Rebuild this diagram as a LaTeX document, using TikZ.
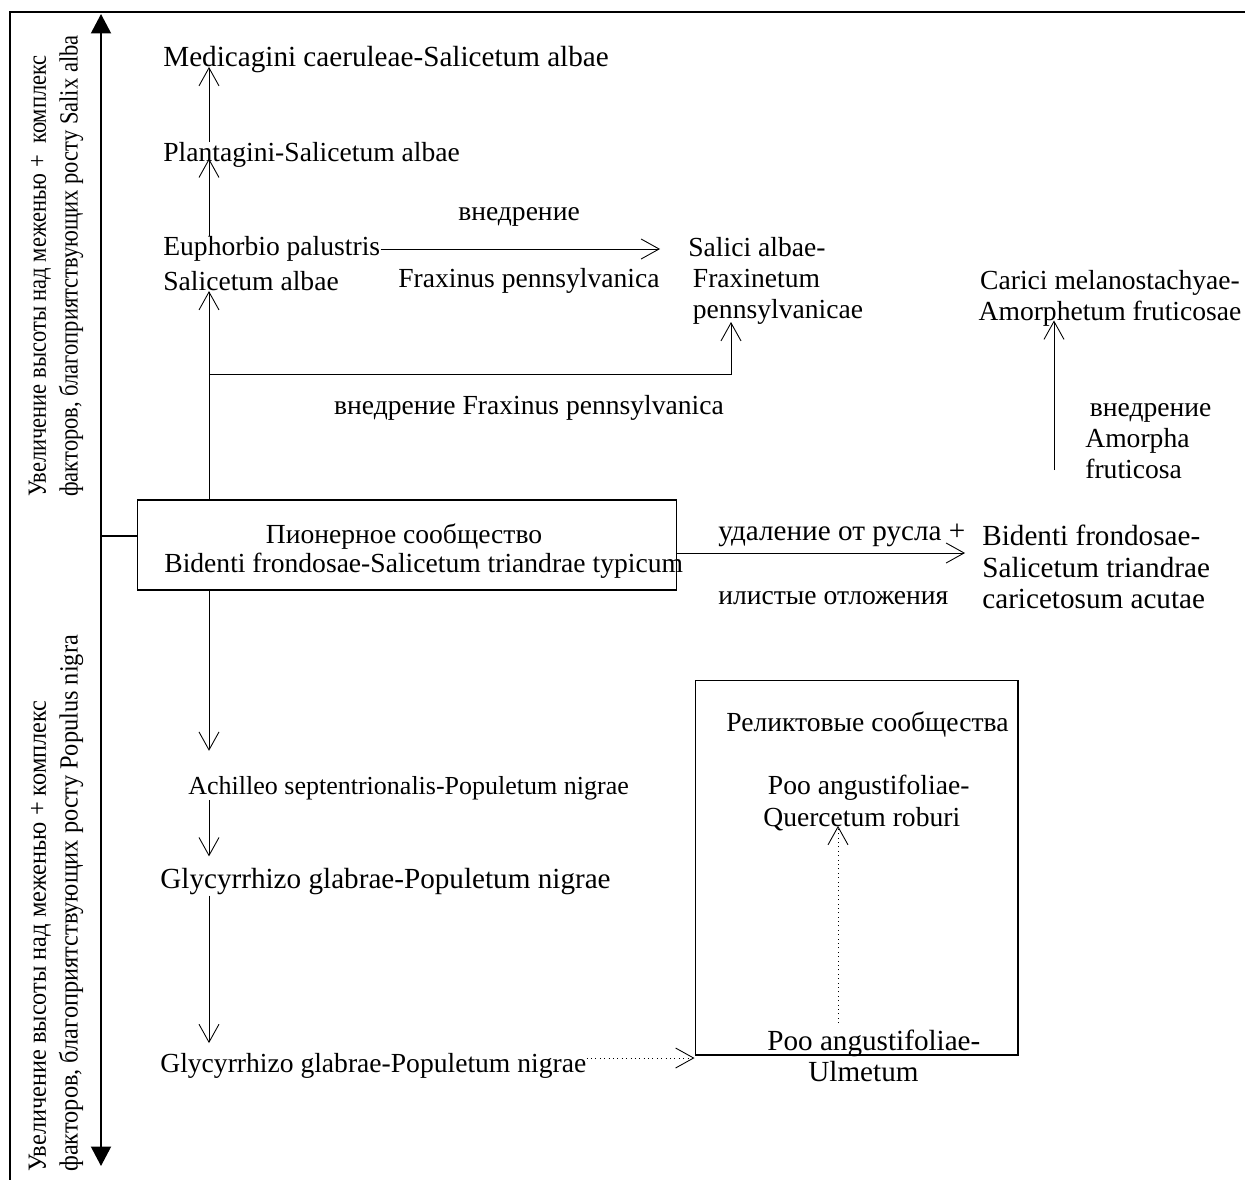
\documentclass[tikz,border=0pt]{standalone}
\usepackage{fontspec}
\setmainfont{Liberation Serif}
\newfontfamily\sidefontA[FakeStretch=0.86]{Liberation Serif}
\newfontfamily\sidefontB[FakeStretch=0.93]{Liberation Serif}
\usetikzlibrary{arrows.meta}

\begin{document}
\begin{tikzpicture}[x=0.02cm, y=-0.02cm,
  every node/.style={inner sep=0pt, font=\fontsize{15.7}{17.8}\selectfont},
  big/.style={font=\fontsize{16.6}{17.8}\selectfont},
  small/.style={font=\fontsize{14.8}{17.8}\selectfont},
  comm/.style={anchor=west, align=left},
  side/.style={rotate=90, anchor=west, align=left},
  arr/.style={-{Straight Barb[length=3.6mm,width=4mm]}, line width=0.5pt},
  darr/.style={arr, dotted},
  axis/.style={{Triangle[length=3.9mm,width=4mm]}-{Triangle[length=3.9mm,width=4mm]}, line width=1.15pt},
  box/.style={draw, line width=0.6pt}]
\useasboundingbox (0,0) rectangle (1245,1180);
% frame and axis
\draw[line width=1.5pt] (10,1180) -- (10,12) -- (1245,12);
\coordinate (atop) at (101,14);
\coordinate (abot) at (101,1166);
\draw[axis] (abot) -- (atop);
\node[side, font=\sidefontA\fontsize{14.9}{18.1}\selectfont] (salix) at (56,497) {Увеличение высоты над меженью +\ \ комплекс\\факторов, благоприятствующих росту Salix alba};
\node[side, font=\sidefontB\fontsize{14.9}{18.1}\selectfont] (popul) at (56,1172) {Увеличение высоты над меженью + комплекс\\факторов, благоприятствующих росту Populus nigra};
% pioneer community
\node[box, minimum width=10.8cm, minimum height=1.8cm] (pion) at (407,545) {};
\node (pion1) at (404,537) {Пионерное сообщество};
\node[comm] (pion2) at (164,566) {Bidenti frondosae-Salicetum triandrae typicum};
\coordinate (tick) at (101,536);
\draw[line width=1.15pt] (tick) -- (tick -| pion.west);
\coordinate (spine) at (209,545);
% Salix alba branch
\node[comm, big] (medic) at (163,60) {Medicagini caeruleae-Salicetum albae};
\node[comm] (plant) at (163,155) {Plantagini-Salicetum albae};
\node[comm] (euph1) at (163,249) {Euphorbio palustris};
\node[comm] (euph2) at (163,281) {Salicetum albae};
\draw[arr] (spine |- pion.north) -- (spine |- euph2.south);
\draw[arr] (spine |- euph1.north) -- ([yshift=0.6mm]spine |- plant.base);
\draw[arr] (spine |- plant.north) -- (spine |- medic.base);
\node[comm] (sal) at (688,281) {Salici albae-\\\,Fraxinetum\\\,pennsylvanicae};
\node (vn1) at (519,217) {внедрение};
\node (fx1) at (529,281) {Fraxinus pennsylvanica};
\draw[arr, shorten >=5.6mm] (euph1.east) -- (euph1.east -| sal.west);
\coordinate (br) at (209,374);
\coordinate (saltip) at (731,322);
\draw[arr] (br) -| (saltip);
\node (vn2) at (529,408) {внедрение Fraxinus pennsylvanica};
% Bidenti branch
\node[comm, big] (bid) at (982,567) {Bidenti frondosae-\\Salicetum triandrae\\caricetosum acutae};
\draw[arr, shorten >=3.4mm] ([yshift=-1.6mm]pion.east) -- ([yshift=-1.6mm]pion.east -| bid.west);
\node[comm, big] (udal) at (718,535) {удаление от русла +};
\node[comm] (ilist) at (718,598) {илистые отложения};
\node[align=center] (caric) at (1110,298) {Carici melanostachyae-\\Amorphetum fruticosae};
\node[comm] (amor) at (1085,441) {\,внедрение\\Amorpha\\fruticosa};
\coordinate (amtail) at (1054,470);
\draw[arr] (amtail) -- ([yshift=1.2mm]amtail |- caric.south);
% Populus nigra branch
\node[comm, small] (achil) at (188,788) {Achilleo septentrionalis-Populetum nigrae};
\node[comm, big] (glyc1) at (160,882) {Glycyrrhizo glabrae-Populetum nigrae};
\node[comm] (glyc2) at (160,1066) {Glycyrrhizo glabrae-Populetum nigrae};
\draw[arr, shorten >=5mm] (spine |- pion.south) -- (spine |- achil.north);
\draw[arr, shorten >=2.4mm] (spine |- achil.south) -- (spine |- glyc1.north);
\draw[arr, shorten >=2mm] (spine |- glyc1.south) -- (spine |- glyc2.north);
% relic communities
\node[box, minimum width=6.46cm, minimum height=7.5cm] (relic) at (856.5,867.5) {};
\node[comm] (relt) at (726,724) {Реликтовые сообщества};
\node[comm] (quer) at (763,803) {\,Poo angustifoliae-\\Quercetum roburi};
\node[comm, big] (ulm) at (767,1056) {Poo angustifoliae-\\\hspace{0.82cm}Ulmetum};
\draw[darr] ([yshift=1.6mm]glyc2.east) -- ([yshift=1.6mm]glyc2.east -| relic.west);
\coordinate (dtail) at (838,1023);
\draw[darr] (dtail) -- ([yshift=1mm]dtail |- quer.south);
\end{tikzpicture}
\end{document}
